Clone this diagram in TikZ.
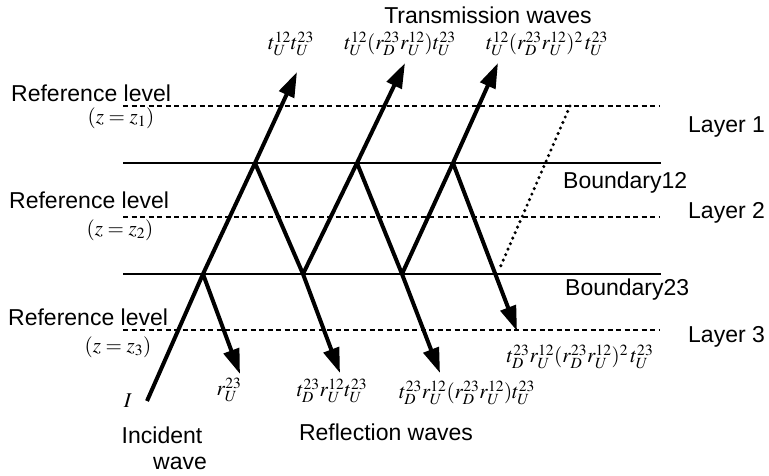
\documentclass[tikz,border=0pt]{standalone}
\usepackage{mathptmx}
\usepackage[no-math]{fontspec}
\setmainfont{Liberation Sans}
\usetikzlibrary{arrows.meta}
\tikzset{
  wave/.style={line width=4pt, -{Triangle[length=25pt,width=16pt]}, line join=miter},
  bound/.style={line width=2.2pt},
  reflev/.style={line width=1.8pt, dash pattern=on 5pt off 3.5pt},
  dotl/.style={line width=3.4pt, line cap=round, dash pattern=on 0pt off 6pt},
  lbl/.style={inner sep=0pt, font=\fontsize{23}{27}\selectfont},
  mlbl/.style={inner sep=0pt, font=\fontsize{21}{25}\selectfont},
}
\begin{document}
\begin{tikzpicture}[x=1pt,y=-1pt]
\useasboundingbox (0,0) rectangle (769,476);
% levels
\coordinate (R1l) at (123,106); \coordinate (R1r) at (659,106);
\coordinate (B1l) at (123,163); \coordinate (B1r) at (661,163);
\coordinate (R2l) at (123,217); \coordinate (R2r) at (659,217);
\coordinate (B2l) at (123,274); \coordinate (B2r) at (661,274);
\coordinate (R3l) at (123,330); \coordinate (R3r) at (659,330);
\draw[reflev] (R1l) -- (R1r);
\draw[reflev] (R2l) -- (R2r);
\draw[reflev] (R3l) -- (R3r);
\draw[bound] (B1l) -- (B1r);
\draw[bound] (B2l) -- (B2r);
% wave points
\coordinate (I0) at (147,401);
\coordinate (A2) at (203,274);
\coordinate (A1) at (255,163);
\coordinate (T1) at (297,72);
\coordinate (C2) at (303,274);
\coordinate (C1) at (357,163);
\coordinate (T2) at (405,63);
\coordinate (E2) at (402,274);
\coordinate (E1) at (453,163);
\coordinate (T3) at (498,63);
\coordinate (D1) at (240,374);
\coordinate (D2) at (340,373);
\coordinate (D3) at (440,373);
\coordinate (D4) at (517,331);
\coordinate (P1) at (570,106);
\coordinate (P2) at (499,270);
% upward waves
\draw[wave] (I0) -- (A2) -- (A1) -- (T1);
\draw[wave] (C2) -- (C1) -- (T2);
\draw[wave] (E2) -- (E1) -- (T3);
% downward waves
\draw[wave] (A2) -- (D1);
\draw[wave] (A1) -- (C2) -- (D2);
\draw[wave] (C1) -- (E2) -- (D3);
\draw[wave] (E1) -- (D4);
% dotted
\draw[dotl] (P1) -- (P2);
% text labels
\node[lbl] (tw) at (488,15) {Transmission waves};
\node[lbl,anchor=west] (rl1) at (11,93) {Reference level};
\node[lbl,anchor=west] (rl2) at (9,200) {Reference level};
\node[lbl,anchor=west] (rl3) at (8,317) {Reference level};
\node[mlbl] (z1) at (121,118) {$(z=z_1)$};
\node[mlbl] (z2) at (120,230) {$(z=z_2)$};
\node[mlbl] (z3) at (118,347) {$(z=z_3)$};
\node[lbl,anchor=west] (ly1) at (688,127) {Layer 1};
\node[lbl,anchor=west] (ly2) at (688,213) {Layer 2};
\node[lbl,anchor=west] (ly3) at (688,337) {Layer 3};
\node[lbl,anchor=west] (b12) at (563,183) {Boundary12};
\node[lbl,anchor=west] (b23) at (565,290) {Boundary23};
\node[lbl] (inc) at (162,435) {Incident};
\node[lbl] (wav) at (180,463) {wave};
\node[lbl] (rw) at (386,432) {Reflection waves};
% math labels
\node[mlbl] (m1) at (291,44) {$t_U^{12}t_U^{23}$};
\node[mlbl] (m2) at (400,44) {$t_U^{12}(r_D^{23}r_U^{12})t_U^{23}$};
\node[mlbl] (m3) at (547,44) {$t_U^{12}(r_D^{23}r_U^{12})^2\,t_U^{23}$};
\node[mlbl] (mi) at (128,401) {$I$};
\node[mlbl] (n1) at (229,390) {$r_U^{23}$};
\node[mlbl] (n2) at (332,391) {$t_D^{23}r_U^{12}t_U^{23}$};
\node[mlbl] (n3) at (467,393) {$t_D^{23}r_U^{12}(r_D^{23}r_U^{12})t_U^{23}$};
\node[mlbl] (n4) at (580,357) {$t_D^{23}r_U^{12}(r_D^{23}r_U^{12})^2\,t_U^{23}$};
\end{tikzpicture}
\end{document}
